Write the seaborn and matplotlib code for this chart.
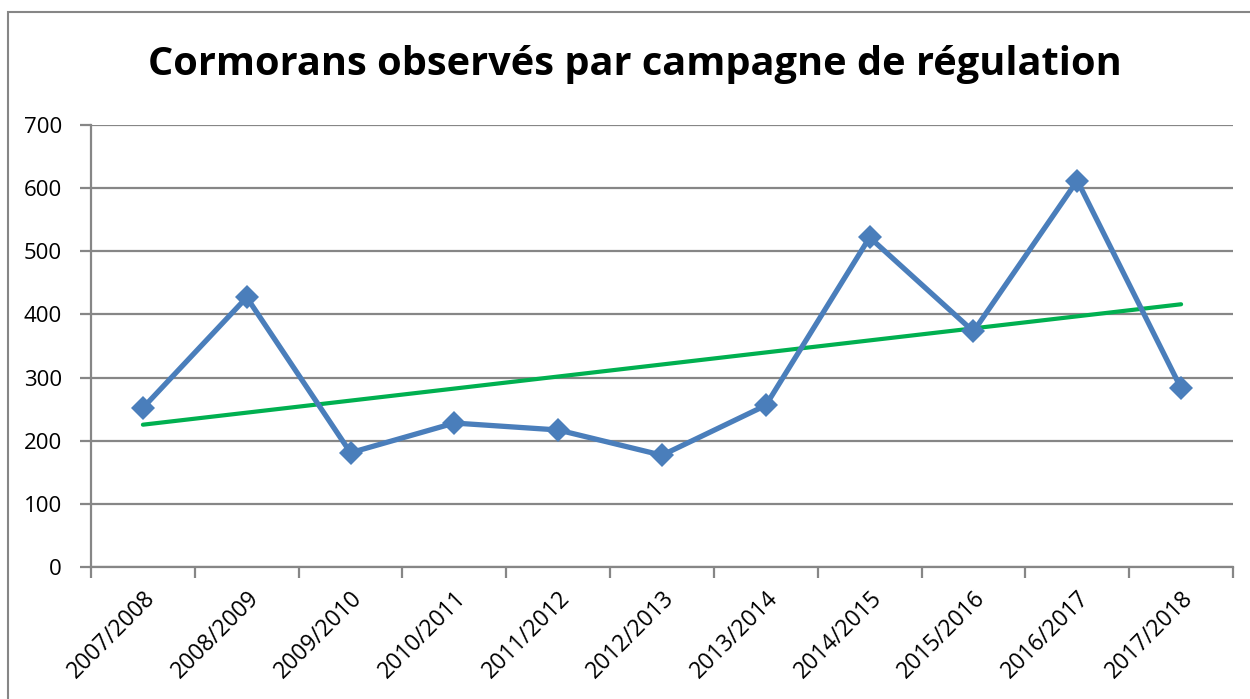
import numpy as np
import pandas as pd
import matplotlib
matplotlib.use("Agg")
import matplotlib.pyplot as plt
import seaborn as sns
from matplotlib.patches import Rectangle

campagnes = ["2007/2008", "2008/2009", "2009/2010", "2010/2011", "2011/2012",
             "2012/2013", "2013/2014", "2014/2015", "2015/2016", "2016/2017",
             "2017/2018"]
cormorans = [252, 427, 181, 228, 217, 177, 256, 522, 373, 612, 283]
y_ticks = [0, 100, 200, 300, 400, 500, 600, 700]
title = "Cormorans observés par campagne de régulation"

sns.set_theme(style="white")
plt.rcParams['font.family'] = ['Open Sans', 'DejaVu Sans']

fig = plt.figure(figsize=(12.5, 6.99), dpi=100)
ax = fig.add_axes([91/1250, 1 - 567/699, (1233-91)/1250, (567-125)/699])

idx = np.arange(len(campagnes))
df = pd.DataFrame({"idx": idx, "n": cormorans})
sns.lineplot(data=df, x="idx", y="n", ax=ax, color="#4A7EBB", linewidth=3.8,
             marker="D", markersize=12.5, markeredgewidth=0, zorder=3)

# linear trend
coef = np.polyfit(idx, cormorans, 1)
trend = np.polyval(coef, idx)
sns.lineplot(x=idx, y=trend, ax=ax, color="#00B050", linewidth=3.0, zorder=2)

ax.set_xlim(-0.5, len(campagnes) - 0.5)
ax.set_ylim(0, 700)
ax.set_yticks(y_ticks)
ax.set_yticklabels([str(v) for v in y_ticks], fontsize=16, color="black")
ax.yaxis.grid(True, color="#868686", linewidth=1.6)
ax.set_axisbelow(True)

ax.set_xticks(np.arange(-0.5, len(campagnes), 1.0))
ax.set_xticklabels([])
ax.set_xticks(idx, minor=True)
ax.set_xticklabels(campagnes, minor=True, rotation=45, ha="right",
                   rotation_mode="anchor", fontsize=16.5, color="black")
ax.tick_params(axis="x", which="major", length=8, width=1.6, color="#868686",
               direction="out", bottom=True)
ax.tick_params(axis="x", which="minor", length=0, pad=14)
ax.tick_params(axis="y", which="major", length=8, width=1.6, color="#868686",
               direction="out", left=True, pad=13)

for s in ["top", "right"]:
    ax.spines[s].set_visible(False)
for s in ["left", "bottom"]:
    ax.spines[s].set_color("#868686")
    ax.spines[s].set_linewidth(1.6)

ax.set_xlabel("")
ax.set_ylabel("")

fig.text(635/1250, 1 - 64/699, title, ha="center", va="center",
         fontsize=28.6, fontweight="bold", color="black")

fig.patches.append(Rectangle((8/1250, -0.1), 1.2, 1 - 12/699 + 0.1,
                             transform=fig.transFigure, fill=False,
                             edgecolor="#868686", linewidth=1.5))

fig.savefig("out.png", dpi=100)
